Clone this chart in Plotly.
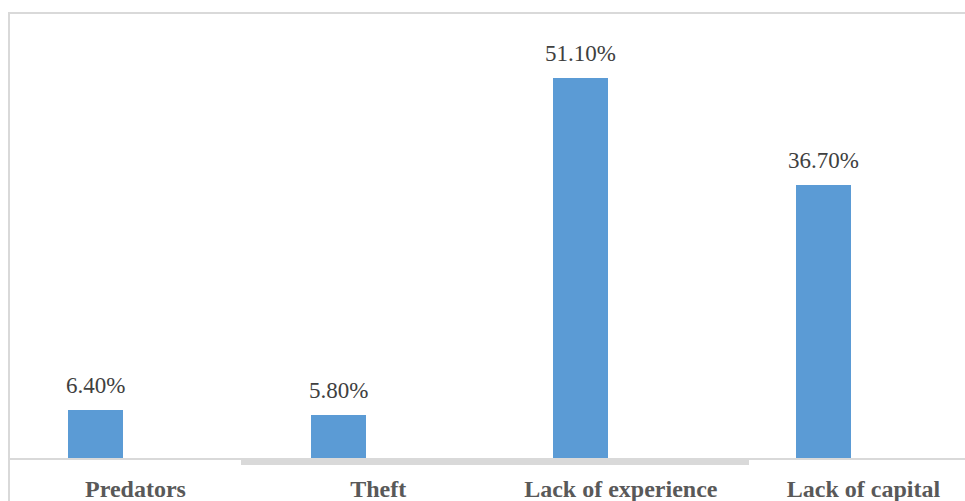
import plotly.graph_objects as go

# Reported constraints (% of respondents)
categories = ["Predators", "Theft", "Lack of experience", "Lack of capital"]
values = [6.4, 5.8, 51.1, 36.7]
value_labels = ["6.40%", "5.80%", "51.10%", "36.70%"]

W, H = 965, 501
BAR_COLOR = "#5B9BD5"
GRID_GRAY = "#D9D9D9"
SERIF = "'Liberation Serif', 'Times New Roman', 'DejaVu Serif', serif"


def px_x(px):
    return px / W


def px_y(py):
    return 1 - py / H


fig = go.Figure()

fig.add_trace(
    go.Bar(
        x=categories,
        y=values,
        width=0.2266,
        marker=dict(color=BAR_COLOR, line=dict(width=0)),
        hoverinfo="skip",
    )
)

# Value labels above each bar
for cat, val, lab in zip(categories, values, value_labels):
    fig.add_annotation(
        x=cat,
        y=val,
        text=lab,
        showarrow=False,
        yanchor="bottom",
        xanchor="center",
        yshift=10,
        font=dict(family=SERIF, size=23, color="#404040"),
    )

shapes = [
    # chart frame: left and top edges
    dict(type="line", xref="paper", yref="paper",
         x0=px_x(9), x1=px_x(9), y0=px_y(12), y1=px_y(520),
         line=dict(color=GRID_GRAY, width=2)),
    dict(type="line", xref="paper", yref="paper",
         x0=px_x(8), x1=px_x(980), y0=px_y(13), y1=px_y(13),
         line=dict(color=GRID_GRAY, width=2)),
    # horizontal axis line
    dict(type="line", xref="paper", yref="paper",
         x0=px_x(9), x1=px_x(980), y0=px_y(459), y1=px_y(459),
         line=dict(color=GRID_GRAY, width=2)),
    # heavier segment under the middle categories
    dict(type="rect", xref="paper", yref="paper",
         x0=px_x(241), x1=px_x(749), y0=px_y(465), y1=px_y(458),
         fillcolor=GRID_GRAY, line=dict(width=0)),
]

fig.update_layout(
    width=W,
    height=H,
    margin=dict(l=0, r=0, t=0, b=0),
    paper_bgcolor="white",
    plot_bgcolor="white",
    showlegend=False,
    bargap=0,
    shapes=shapes,
    xaxis=dict(
        domain=[px_x(10), 1],
        range=[-0.3523, 3.583],
        type="category",
        showgrid=False,
        showline=False,
        zeroline=False,
        ticks="",
        ticklabelshift=40,
        ticklabelstandoff=14,
        tickfont=dict(family=SERIF, size=24, color="#595959", weight="bold"),
    ),
    yaxis=dict(
        domain=[px_y(458), px_y(14)],
        range=[0, 59.68],
        showgrid=False,
        showline=False,
        zeroline=False,
        showticklabels=False,
        ticks="",
    ),
)

fig.write_html("out.html")
